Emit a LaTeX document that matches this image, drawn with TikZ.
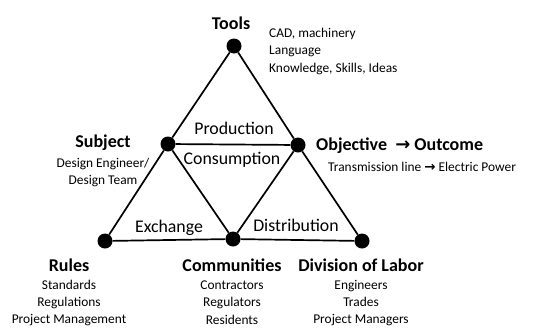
\documentclass[tikz,border=0pt]{standalone}
\usepackage{fontspec}
\setmainfont{Carlito}
\newfontfamily\arrowfont{DejaVu Sans}
\usetikzlibrary{positioning}

\begin{document}
\begin{tikzpicture}[
    x=1pt, y=-1pt,
    node distance=6pt,
    dot/.style={circle, fill, inner sep=0pt, minimum size=15pt},
    link/.style={line width=1.7pt},
    head/.style={inner sep=0pt, font=\bfseries\fontsize{18}{21}\selectfont},
    note/.style={inner sep=0pt, align=center, font=\fontsize{13.4}{17.4}\selectfont},
    region/.style={inner sep=0pt, font=\fontsize{17.8}{21}\selectfont}
]
\useasboundingbox (0,0) rectangle (551,327);

\node[dot] (tools) at (234,46) {};
\node[dot] (subject) at (168,144) {};
\node[dot] (objective) at (298,145) {};
\node[dot] (rules) at (105,241) {};
\node[dot] (communities) at (233,239) {};
\node[dot] (division) at (362,241) {};

\draw[link] (tools) -- (subject);
\draw[link] (tools) -- (objective);
\draw[link] (subject) -- (objective);
\draw[link] (subject) -- (rules);
\draw[link] (subject) -- (communities);
\draw[link] (objective) -- (communities);
\draw[link] (objective) -- (division);
\draw[link] (rules) -- (communities);
\draw[link] (communities) -- (division);

\node[region] (production) at (234,128) {Production};
\node[region] (consumption) at (232,160) {Consumption};
\node[region] (exchange) at (169,228) {Exchange};
\node[region] (distribution) at (296,225) {Distribution};

\node[head] (toolsname) at (231,23) {Tools};
\node[note, align=left, anchor=north west] (toolsnote) at (269,28)
    {CAD, machinery\\Language\\Knowledge, Skills, Ideas};

\node[head] (subjectname) at (103,143) {Subject};
\node[note, below=7pt of subjectname] (subjectnote) {Design Engineer/\\Design Team};

\node[head, anchor=west] (objectivename) at (316,146)
    {Objective~ {\arrowfont\bfseries →} Outcome};
\node[note, anchor=west] (objectivenote) at (328,167)
    {Transmission line {\arrowfont\bfseries →} Electric Power};

\node[head] (rulesname) at (69,265) {Rules};
\node[note, below=8pt of rulesname] (rulesnote)
    {Standards\\Regulations\\Project Management};

\node[head] (communitiesname) at (232,265) {Communities};
\node[note, below=9pt of communitiesname] (communitiesnote)
    {Contractors\\Regulators\\Residents};

\node[head] (divisionname) at (361,265) {Division of Labor};
\node[note, below=8pt of divisionname] (divisionnote)
    {Engineers\\Trades\\Project Managers};
\end{tikzpicture}
\end{document}
